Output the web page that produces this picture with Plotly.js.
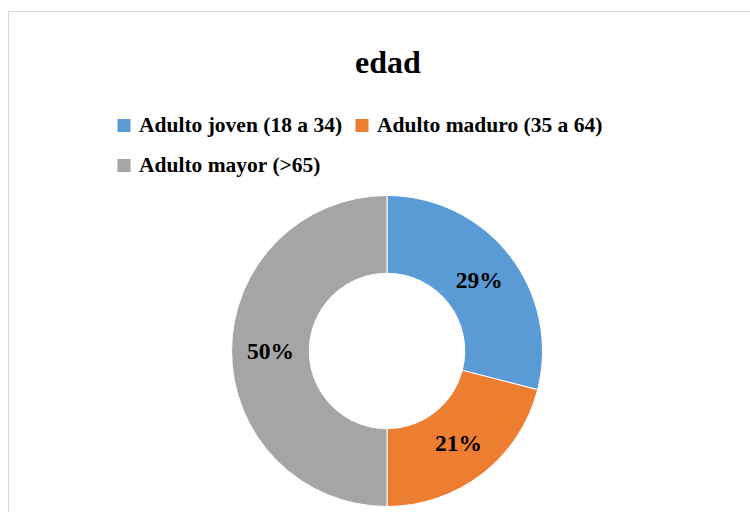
<!DOCTYPE html>
<html>
<head>
<meta charset="utf-8">
<script src="https://cdn.plot.ly/plotly-3.0.1.min.js"></script>
<style>html,body{margin:0;padding:0;background:#fff;}#chart{width:750px;height:512px;}</style>
</head>
<body>
<div id="chart"></div>
<script>
const categories = ["Adulto joven (18 a 34)", "Adulto maduro (35 a 64)", "Adulto mayor (>65)"];
const values = [29, 21, 50];
const colors = ["#5B9BD5", "#ED7D31", "#A5A5A5"];
const chartTitle = "edad";

const W = 750, H = 512;
const serif = "'Liberation Serif', 'Times New Roman', serif";
const px = v => v / W;
const py = v => 1 - v / H;

const trace = {
  type: "pie",
  labels: categories,
  values: values,
  hole: 0.5,
  sort: false,
  direction: "clockwise",
  rotation: 0,
  marker: { colors: colors, line: { color: "#ffffff", width: 1 } },
  textinfo: "percent",
  texttemplate: "%{percent:.0%}",
  textposition: "inside",
  insidetextorientation: "horizontal",
  textfont: { family: serif, size: 23.5, color: "#000000", weight: "bold" },
  domain: { x: [231.5 / W, 542.5 / W], y: [5.5 / H, 316.5 / H] },
  hoverinfo: "label+percent",
  showlegend: false
};

// legend layout (positions only), built from categories/colors
const legendPos = [
  { mx: 117.5, my: 119, tx: 136.5, ty: 125 },
  { mx: 355.5, my: 119, tx: 374.5, ty: 125 },
  { mx: 117.5, my: 159, tx: 136.5, ty: 165 }
];
const mk = 13;
const shapes = [{
  type: "rect", xref: "paper", yref: "paper",
  x0: px(8.5), x1: 1.02, y0: -0.02, y1: py(11.5),
  line: { color: "#d9d9d9", width: 1 }, fillcolor: "rgba(0,0,0,0)"
}];
const annotations = [];
categories.forEach((c, i) => {
  const p = legendPos[i];
  shapes.push({
    type: "rect", xref: "paper", yref: "paper",
    x0: px(p.mx), x1: px(p.mx + mk), y0: py(p.my + mk), y1: py(p.my),
    line: { width: 0 }, fillcolor: colors[i]
  });
  annotations.push({
    xref: "paper", yref: "paper", x: px(p.tx), y: py(p.ty),
    xanchor: "left", yanchor: "middle", showarrow: false,
    text: "<b>" + c.replace(">", "&gt;") + "</b>",
    font: { family: serif, size: 21.5, color: "#000000" }
  });
});

const layout = {
  width: W, height: H,
  margin: { l: 0, r: 0, t: 0, b: 0 },
  paper_bgcolor: "#ffffff",
  font: { family: serif, color: "#000000" },
  title: {
    text: "<b>" + chartTitle + "</b>",
    font: { family: serif, size: 32, color: "#000000" },
    x: px(388), xanchor: "center",
    y: py(62), yanchor: "middle",
    xref: "paper", yref: "paper"
  },
  showlegend: false,
  shapes: shapes,
  annotations: annotations
};

Plotly.newPlot("chart", [trace], layout, { displayModeBar: false, staticPlot: true });
</script>
</body>
</html>
